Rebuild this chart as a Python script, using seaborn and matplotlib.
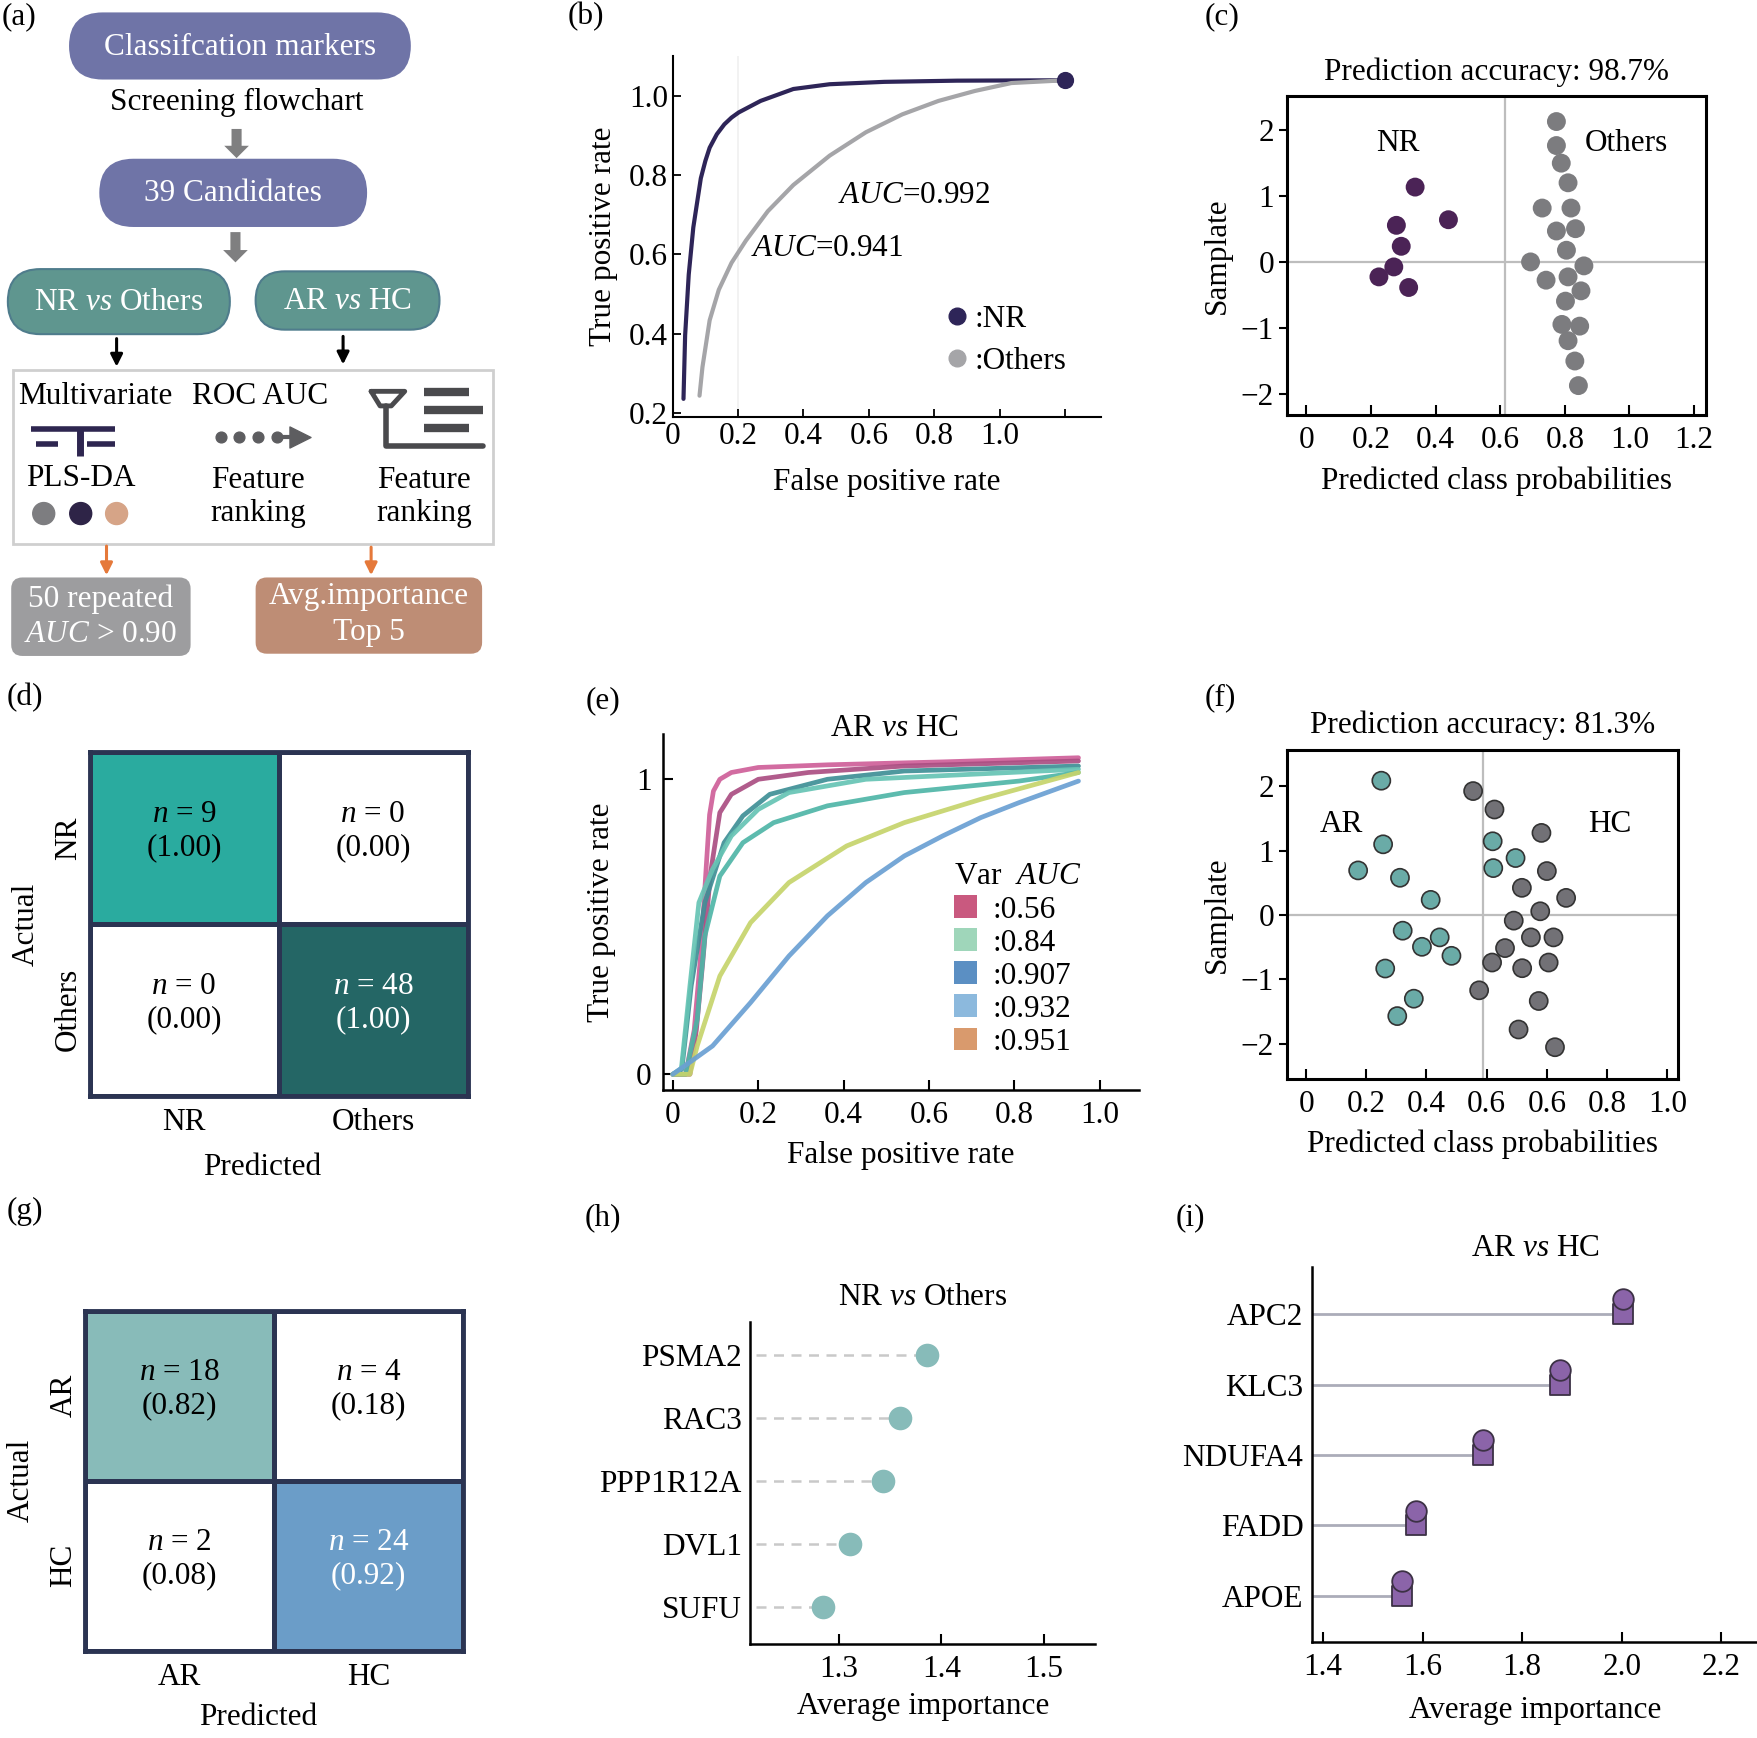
import numpy as np
import pandas as pd
import matplotlib
matplotlib.use("Agg")
import matplotlib.pyplot as plt
import seaborn as sns
from matplotlib.patches import FancyBboxPatch, Rectangle, Patch, FancyArrow
from matplotlib.lines import Line2D
from matplotlib.colors import LinearSegmentedColormap

# ---------------- data ----------------
# (b) ROC NR vs Others
nr_fpr = [0.033, 0.038, 0.049, 0.063, 0.086, 0.1, 0.113, 0.135, 0.158, 0.18, 0.202, 0.269, 0.369, 0.48, 0.647, 0.869, 1.2]
nr_tpr = [0.236, 0.396, 0.549, 0.668, 0.792, 0.836, 0.869, 0.903, 0.928, 0.945, 0.958, 0.987, 1.017, 1.029, 1.035, 1.038, 1.039]
oth_fpr = [0.082, 0.091, 0.113, 0.141, 0.18, 0.224, 0.291, 0.369, 0.48, 0.591, 0.702, 0.813, 0.924, 1.036, 1.2]
oth_tpr = [0.244, 0.316, 0.434, 0.511, 0.579, 0.635, 0.709, 0.775, 0.849, 0.908, 0.953, 0.987, 1.012, 1.032, 1.039]
auc_b = ["0.992", "0.941"]

# (c) predicted probabilities NR vs Others
c_nr_prob = [0.337, 0.44, 0.279, 0.294, 0.271, 0.225, 0.317]
c_nr_samp = [1.135, 0.64, 0.555, 0.237, -0.076, -0.227, -0.388]
c_oth_prob = [0.774, 0.774, 0.789, 0.81, 0.73, 0.819, 0.774, 0.833, 0.805, 0.694,
              0.859, 0.742, 0.81, 0.85, 0.802, 0.791, 0.846, 0.81, 0.831, 0.842]
c_oth_samp = [2.129, 1.765, 1.498, 1.2, 0.817, 0.817, 0.469, 0.504, 0.177, 0.0,
              -0.06, -0.277, -0.227, -0.439, -0.595, -0.948, -0.974, -1.195, -1.503, -1.876]
c_threshold = 0.614
c_accuracy = "98.7%"

# (d) confusion matrix NR vs Others
cm_d_labels = ["NR", "Others"]
cm_d_counts = [[9, 0], [0, 48]]
cm_d_props = [[1.00, 0.00], [0.00, 1.00]]

# (e) ROC curves AR vs HC
e_curves = {
    "c1": ([0.0, 0.03, 0.05, 0.065, 0.078, 0.086, 0.095, 0.11, 0.137, 0.2, 0.362, 0.632, 0.95],
           [0.0, 0.0, 0.15, 0.4, 0.7, 0.88, 0.96, 1.0, 1.023, 1.04, 1.049, 1.059, 1.073]),
    "c2": ([0.0, 0.04, 0.055, 0.07, 0.088, 0.11, 0.137, 0.2, 0.317, 0.542, 0.95],
           [0.0, 0.0, 0.15, 0.38, 0.68, 0.887, 0.949, 1.0, 1.023, 1.045, 1.062]),
    "c3": ([0.0, 0.021, 0.043, 0.075, 0.12, 0.164, 0.227, 0.362, 0.542, 0.95],
           [0.0, 0.017, 0.3, 0.582, 0.785, 0.876, 0.949, 1.0, 1.028, 1.045]),
    "c4": ([0.0, 0.02, 0.04, 0.061, 0.093, 0.137, 0.2, 0.272, 0.452, 0.95],
           [0.0, 0.02, 0.3, 0.582, 0.695, 0.808, 0.898, 0.955, 1.0, 1.034]),
    "c5": ([0.0, 0.03, 0.057, 0.075, 0.11, 0.164, 0.236, 0.362, 0.542, 0.811, 0.95],
           [0.0, 0.0, 0.186, 0.469, 0.672, 0.785, 0.853, 0.91, 0.955, 0.994, 1.023]),
    "c6": ([0.0, 0.04, 0.057, 0.11, 0.182, 0.272, 0.407, 0.542, 0.721, 0.95],
           [0.0, 0.0, 0.096, 0.333, 0.514, 0.65, 0.774, 0.853, 0.932, 1.023]),
    "c7": ([0.0, 0.039, 0.093, 0.182, 0.272, 0.362, 0.452, 0.542, 0.632, 0.721, 0.811, 0.95],
           [0.0, 0.04, 0.096, 0.243, 0.401, 0.537, 0.65, 0.74, 0.808, 0.87, 0.921, 0.994]),
}
e_curve_colors = ["#cf5f99", "#ab4e82", "#3f8f96", "#66c4b4", "#4fb5a7", "#c6d46b", "#6aa0d3"]
e_legend_auc = [":0.56", ":0.84", ":0.907", ":0.932", ":0.951"]
e_legend_colors = ["#c9597f", "#9fd6ba", "#5b8fc3", "#8cb9dd", "#d99a6d"]

# (f) predicted probabilities AR vs HC
f_ar_prob = [0.25, 0.256, 0.173, 0.312, 0.414, 0.321, 0.444, 0.385, 0.483, 0.263, 0.358, 0.303, 0.62, 0.696, 0.622]
f_ar_samp = [2.083, 1.096, 0.691, 0.577, 0.234, -0.244, -0.348, -0.494, -0.634, -0.831, -1.299, -1.569, 1.143, 0.883, 0.727]
f_hc_prob = [0.555, 0.626, 0.782, 0.8, 0.717, 0.864, 0.778, 0.69, 0.747, 0.822, 0.661, 0.618, 0.718, 0.806, 0.575, 0.773, 0.706, 0.827]
f_hc_samp = [1.922, 1.636, 1.273, 0.681, 0.421, 0.265, 0.057, -0.088, -0.348, -0.348, -0.514, -0.738, -0.826, -0.738, -1.169, -1.335, -1.777, -2.052]
f_threshold = 0.587
f_accuracy = "81.3%"
f_tick_labels = ["0", "0.2", "0.4", "0.6", "0.6", "0.8", "1.0"]

# (g) confusion matrix AR vs HC
cm_g_labels = ["AR", "HC"]
cm_g_counts = [[18, 4], [2, 24]]
cm_g_props = [[0.82, 0.18], [0.08, 0.92]]

# (h) importance NR vs Others
h_genes = ["PSMA2", "RAC3", "PPP1R12A", "DVL1", "SUFU"]
h_importance = [1.386, 1.360, 1.343, 1.311, 1.285]

# (i) importance AR vs HC
i_genes = ["APC2", "KLC3", "NDUFA4", "FADD", "APOE"]
i_importance = [2.002, 1.875, 1.722, 1.586, 1.559]

# ---------------- style ----------------
FS = 22.5
sns.set_theme(style="ticks")
plt.rcParams["font.family"] = ["Liberation Serif", "DejaVu Serif"]
plt.rcParams.update({
    "mathtext.fontset": "custom",
    "mathtext.rm": "Liberation Serif",
    "mathtext.it": "Liberation Serif:italic",
    "font.size": FS,
    "xtick.labelsize": FS, "ytick.labelsize": FS,
    "axes.labelsize": FS, "axes.titlesize": FS,
    "text.color": "black", "axes.labelcolor": "black",
    "xtick.color": "black", "ytick.color": "black",
    "axes.edgecolor": "black",
})

W, H = 1568.0, 1550.0


def rect(l, t, r, b):
    return [l / W, 1 - b / H, (r - l) / W, (b - t) / H]


fig = plt.figure(figsize=(17.58, 17.38), dpi=100)
fig.patch.set_facecolor("white")

for lab, (px, py) in {"(a)": (17, 15), "(b)": (523, 15), "(c)": (1090, 15), "(d)": (22, 622),
                      "(e)": (538, 625), "(f)": (1088, 622), "(g)": (22, 1080), "(h)": (538, 1086),
                      "(i)": (1062, 1086)}.items():
    fig.text(px / W, 1 - py / H, lab, ha="center", va="center", fontsize=FS)

# ---------------- (a) flowchart ----------------
axa = fig.add_axes(rect(0, 0, 445, 600))
axa.set_xlim(0, 445)
axa.set_ylim(600, 0)
axa.axis("off")


def pill(cx, cy, w, h, fc, ec, text):
    axa.add_patch(FancyBboxPatch((cx - w / 2, cy - h / 2), w, h,
                                 boxstyle=f"round,pad=0,rounding_size={h / 2}",
                                 fc=fc, ec=ec, lw=1.5))
    axa.text(cx, cy + 1, text, color="white", ha="center", va="center", fontsize=FS)


pill(214, 41, 303, 58, "#6f74a7", "#6f74a7", "Classifcation markers")
axa.text(211, 91, "Screening flowchart", ha="center", va="center", fontsize=FS)
pill(208, 172, 237, 59, "#6f74a7", "#6f74a7", "39 Candidates")
pill(106, 269, 198, 58, "#5f968f", "#4f7c8c", "NR $vs$ Others")
pill(310, 268, 164, 52, "#5f968f", "#4f7c8c", "AR $vs$ HC")
for (x, y0, y1) in [(211, 115, 141), (210, 207, 234)]:
    axa.add_patch(FancyArrow(x, y0, 0, y1 - y0, width=9, head_width=22, head_length=11,
                             length_includes_head=True, color="#7f7f80", lw=0))
for (x, y0, y1, c) in [(104, 302, 327, "black"), (306, 300, 325, "black"),
                       (95, 487, 513, "#e5793a"), (331, 488, 513, "#e5793a")]:
    axa.annotate("", xy=(x, y1), xytext=(x, y0),
                 arrowprops=dict(arrowstyle="-|>", color=c, lw=2.2, mutation_scale=18,
                                 shrinkA=0, shrinkB=0))
axa.add_patch(Rectangle((12, 330), 428, 155, fill=False, ec="#cfcfcf", lw=2))
axa.text(85, 354, "Multivariate", ha="center", va="center", fontsize=FS)
axa.text(232, 354, "ROC AUC", ha="center", va="center", fontsize=FS)
axa.text(72, 427, "PLS-DA", ha="center", va="center", fontsize=FS)
axa.text(230, 443, "Feature\nranking", ha="center", va="center", fontsize=FS, linespacing=1.2)
axa.text(378, 443, "Feature\nranking", ha="center", va="center", fontsize=FS, linespacing=1.2)
navy = "#2e2650"
axa.plot([28, 103], [383, 383], color=navy, lw=4, solid_capstyle="butt")
axa.plot([32, 52], [396, 396], color=navy, lw=4, solid_capstyle="butt")
axa.plot([78, 103], [396, 396], color=navy, lw=4, solid_capstyle="butt")
axa.plot([71, 71], [383, 407], color=navy, lw=5, solid_capstyle="butt")
axa.scatter([197, 213, 230, 247], [390] * 4, s=60, color="#5d5d60", zorder=3)
axa.scatter([268], [390], marker=">", s=230, color="#5d5d60", zorder=3)
axa.plot([252, 265], [390, 390], color="#5d5d60", lw=3)
gk = "#4a4a4d"
axa.plot([331, 361, 349, 349, 339, 339, 331], [349, 349, 362, 362, 362, 362, 349], color=gk, lw=3.5)
axa.plot([344, 344, 431], [362, 398, 398], color=gk, lw=4, solid_joinstyle="round")
axa.plot([378, 418], [350, 350], color=gk, lw=6, solid_capstyle="butt")
axa.plot([378, 431], [366, 366], color=gk, lw=6, solid_capstyle="butt")
axa.plot([378, 418], [382, 382], color=gk, lw=6, solid_capstyle="butt")
axa.scatter([39, 72, 104], [458, 458, 458], s=250, color=["#7d7d80", "#2e2447", "#d6a487"], zorder=3)
axa.add_patch(FancyBboxPatch((10, 515), 160, 70, boxstyle="round,pad=0,rounding_size=10",
                             fc="#9d9d9f", ec="none"))
axa.text(90, 534, "50 repeated", ha="center", va="center", color="white", fontsize=FS)
axa.text(90, 566, "$AUC$ > 0.90", ha="center", va="center", color="white", fontsize=FS)
axa.add_patch(FancyBboxPatch((228, 515), 202, 68, boxstyle="round,pad=0,rounding_size=10",
                             fc="#be8d75", ec="none"))
axa.text(329, 532, "Avg.importance", ha="center", va="center", color="white", fontsize=FS)
axa.text(329, 564, "Top 5", ha="center", va="center", color="white", fontsize=FS)

# ---------------- (b) ROC ----------------
axb = fig.add_axes(rect(600, 50, 982, 372))
df_b = pd.DataFrame({"fpr": nr_fpr + oth_fpr, "tpr": nr_tpr + oth_tpr,
                     "cls": ["NR"] * len(nr_fpr) + ["Others"] * len(oth_fpr)})
pal_b = {"NR": "#2e2558", "Others": "#a5a5a8"}
axb.axvline(0.2, color="#f0f0f0", lw=1.2, zorder=0)
sns.lineplot(data=df_b, x="fpr", y="tpr", hue="cls", palette=pal_b, lw=3, sort=False,
             estimator=None, legend=False, ax=axb)
axb.scatter([nr_fpr[-1]], [nr_tpr[-1]], s=130, color=pal_b["NR"], zorder=5)
axb.set_xlim(0, 1.31)
axb.set_ylim(0.19, 1.1)
axb.set_xticks([0, 0.2, 0.4, 0.6, 0.8, 1.0, 1.2])
axb.set_xticklabels(["0", "0.2", "0.4", "0.6", "0.8", "1.0", ""])
axb.set_yticks([0.2, 0.4, 0.6, 0.8, 1.0])
axb.set_yticklabels(["0.2", "0.4", "0.6", "0.8", "1.0"])
axb.tick_params(direction="in", length=6, width=1.3)
axb.set_xlabel("False positive rate", labelpad=12)
axb.set_ylabel("True positive rate", labelpad=8)
sns.despine(ax=axb)
for s in ["left", "bottom"]:
    axb.spines[s].set_linewidth(1.5)
axb.text(0.563, 0.615, f"$AUC$={auc_b[0]}", transform=axb.transAxes, ha="center", va="center", fontsize=FS)
axb.text(0.361, 0.466, f"$AUC$={auc_b[1]}", transform=axb.transAxes, ha="center", va="center", fontsize=FS)
hb = [Line2D([], [], marker="o", ls="", color=pal_b[k], markersize=12) for k in ["NR", "Others"]]
axb.legend(hb, [":NR", ":Others"], frameon=False, loc="upper left", bbox_to_anchor=(0.605, 0.345),
           handlelength=0.8, handletextpad=0.15, labelspacing=0.42, fontsize=FS, borderaxespad=0)


# ---------------- (c) and (f) scatter ----------------
def prob_panel(box, probs_a, samps_a, probs_b, samps_b, names, cols, edge, thr, acc, xlim, ylim,
               xticklabels, txt_pos):
    ax = fig.add_axes(rect(*box))
    df = pd.DataFrame({"prob": probs_a + probs_b, "sample": samps_a + samps_b,
                       "grp": [names[0]] * len(probs_a) + [names[1]] * len(probs_b)})
    ax.axhline(0, color="#bdbdbd", lw=1.6, zorder=0)
    ax.axvline(thr, color="#bdbdbd", lw=1.6, zorder=0)
    kw = dict(edgecolor="none") if edge is None else dict(edgecolor=edge, linewidth=1.2)
    sns.scatterplot(data=df, x="prob", y="sample", hue="grp", palette=dict(zip(names, cols)),
                    s=185 if edge is None else 170, legend=False, ax=ax, zorder=3, **kw)
    ax.set_xlim(*xlim)
    ax.set_ylim(*ylim)
    ax.set_xticks([0, 0.2, 0.4, 0.6, 0.8, 1.0, 1.2])
    ax.set_xticklabels(xticklabels)
    ax.set_yticks([-2, -1, 0, 1, 2])
    ax.tick_params(axis="x", direction="in", length=7, width=1.5, pad=8)
    ax.tick_params(axis="y", direction="out", length=6, width=1.5)
    for s in ax.spines.values():
        s.set_linewidth(2.2)
        s.set_visible(True)
    ax.set_xlabel("Predicted class probabilities", labelpad=8)
    ax.set_ylabel("Samplate", labelpad=6)
    ax.set_title(f"Prediction accuracy: {acc}", pad=12, fontsize=FS)
    for (tx, ty), nm in zip(txt_pos, names):
        ax.text(tx, ty, nm, ha="center", va="center", fontsize=FS)
    return ax


prob_panel((1148, 86, 1522, 370), c_nr_prob, c_nr_samp, c_oth_prob, c_oth_samp,
           ["NR", "Others"], ["#4b2356", "#7c7c7f"], None, c_threshold, c_accuracy,
           (-0.059, 1.238), (-2.32, 2.51), ["0", "0.2", "0.4", "0.6", "0.8", "1.0", "1.2"],
           [(0.284, 1.79), (0.989, 1.79)])
prob_panel((1148, 669, 1497, 962), f_ar_prob, f_ar_samp, f_hc_prob, f_hc_samp,
           ["AR", "HC"], ["#6aaba7", "#727176"], "#333333", f_threshold, f_accuracy,
           (-0.063, 1.237), (-2.54, 2.557), f_tick_labels,
           [(0.119, 1.40), (1.009, 1.40)])


# ---------------- (d) and (g) confusion matrices ----------------
def cm_panel(box, counts, props, labels, cmap, xlab_y):
    ax = fig.add_axes(rect(*box))
    arr = np.array(counts)
    sns.heatmap(arr, cmap=cmap, vmin=0, vmax=arr.max(), cbar=False, linewidths=3.5,
                linecolor="#2b3452", xticklabels=labels, yticklabels=labels, ax=ax)
    for s in ax.spines.values():
        s.set_visible(True)
        s.set_color("#2b3452")
        s.set_linewidth(3.5)
    for i in range(arr.shape[0]):
        for j in range(arr.shape[1]):
            col = "white" if arr[i, j] == arr.max() else "black"
            ax.text(j + 0.5, i + 0.46, f"$n$ = {arr[i, j]}\n({props[i][j]:.2f})", ha="center",
                    va="center", color=col, fontsize=FS, linespacing=1.2)
    ax.tick_params(length=0, labelsize=FS)
    ax.tick_params(axis="x", pad=9)
    ax.tick_params(axis="y", pad=5)
    ax.set_yticklabels(labels, rotation=90, va="center")
    ax.set_xlabel("Predicted", fontsize=FS)
    ax.set_ylabel("Actual", fontsize=FS)
    ax.xaxis.set_label_coords(0.457, xlab_y)
    ax.yaxis.set_label_coords(-0.13, 0.5)
    return ax


cmap_d = LinearSegmentedColormap.from_list("d", [(0, "white"), (9 / 48, "#2aab9f"), (1, "#246665")])
cm_panel((80, 671, 417, 977), cm_d_counts, cm_d_props, cm_d_labels, cmap_d, -0.168)
cmap_g = LinearSegmentedColormap.from_list("g", [(0, "white"), (4 / 24, "white"), (18 / 24, "#88bbb9"),
                                                 (1, "#6b9dc8")])
cm_panel((76, 1169, 413, 1472), cm_g_counts, cm_g_props, cm_g_labels, cmap_g, -0.155)

# ---------------- (e) ROC AR vs HC ----------------
axe = fig.add_axes(rect(591, 655, 1016, 972))
rows = []
for k, (xs, ys) in e_curves.items():
    for x, y in zip(xs, ys):
        rows.append((k, x, y))
df_e = pd.DataFrame(rows, columns=["curve", "fpr", "tpr"])
sns.lineplot(data=df_e, x="fpr", y="tpr", hue="curve", palette=dict(zip(e_curves.keys(), e_curve_colors)),
             lw=3.4, alpha=0.92, sort=False, estimator=None, legend=False, ax=axe)
axe.set_xlim(-0.024, 1.092)
axe.set_ylim(-0.053, 1.152)
axe.set_xticks([0, 0.2, 0.4, 0.6, 0.8, 1.0])
axe.set_xticklabels(["0", "0.2", "0.4", "0.6", "0.8", "1.0"])
axe.set_yticks([0, 1])
axe.set_yticklabels(["0", "1"])
axe.tick_params(direction="in", length=7, width=1.5, pad=8)
sns.despine(ax=axe)
for s in ["left", "bottom"]:
    axe.spines[s].set_linewidth(1.8)
axe.set_xlabel("False positive rate", labelpad=8)
axe.set_ylabel("True positive rate", labelpad=14)
axe.text(0.487, 1.016, "AR $vs$ HC", transform=axe.transAxes, ha="center", va="center", fontsize=FS)
he = [Patch(facecolor=c, edgecolor="none") for c in e_legend_colors]
leg = axe.legend(he, e_legend_auc, title="Var  $AUC$", frameon=False, loc="upper left",
                 bbox_to_anchor=(0.585, 0.675), handlelength=0.75, handleheight=0.75, handletextpad=0.5,
                 labelspacing=0.12, fontsize=FS, title_fontsize=FS, borderaxespad=0)
leg._legend_box.align = "left"

# ---------------- (h) lollipop ----------------
axh = fig.add_axes(rect(669, 1179, 977, 1466))
df_h = pd.DataFrame({"gene": h_genes, "imp": h_importance})
h_xmin = 1.2137
axh.hlines(y=np.arange(len(h_genes)), xmin=h_xmin + 0.006, xmax=df_h["imp"], colors="#c9c9c9",
           linestyles=(0, (4, 3)), lw=1.8, zorder=1)
sns.stripplot(data=df_h, x="imp", y="gene", jitter=False, size=17, color="#87bbb9",
              linewidth=0, ax=axh, zorder=3)
axh.set_xlim(h_xmin, 1.55)
axh.set_ylim(len(h_genes) - 1 + 0.59, -0.52)
axh.set_xticks([1.3, 1.4, 1.5])
axh.set_xticklabels(["1.3", "1.4", "1.5"])
axh.tick_params(axis="x", direction="in", length=7, width=1.5, pad=8)
axh.tick_params(axis="y", length=0, pad=6, labelsize=FS)
sns.despine(ax=axh)
for s in ["left", "bottom"]:
    axh.spines[s].set_linewidth(1.8)
axh.set_xlabel("Average importance", labelpad=6)
axh.set_ylabel("")
axh.set_title("NR $vs$ Others", pad=12, fontsize=FS)

# ---------------- (i) lollipop ----------------
axi = fig.add_axes(rect(1170, 1130, 1568, 1464))
df_i = pd.DataFrame({"gene": i_genes, "imp": i_importance})
i_xmin = 1.377
axi.hlines(y=np.arange(len(i_genes)), xmin=i_xmin, xmax=df_i["imp"], colors="#abacb9", lw=2, zorder=1)
sns.stripplot(data=df_i, x="imp", y="gene", jitter=False, size=14, marker="s", color="#8b64a9",
              edgecolor="#3c3145", linewidth=1.3, ax=axi, zorder=3)
axi.scatter(df_i["imp"], np.arange(len(i_genes)) - 0.21, s=220, color="#8b64a9",
            edgecolor="#3c3145", linewidth=1.3, zorder=4)
axi.set_xlim(i_xmin, 2.274)
axi.set_ylim(len(i_genes) - 1 + 0.65, -0.67)
axi.set_xticks([1.4, 1.6, 1.8, 2.0, 2.2])
axi.set_xticklabels(["1.4", "1.6", "1.8", "2.0", "2.2"])
axi.tick_params(axis="x", direction="in", length=7, width=1.5, pad=8)
axi.tick_params(axis="y", length=0, pad=6, labelsize=FS)
sns.despine(ax=axi)
for s in ["left", "bottom"]:
    axi.spines[s].set_linewidth(1.8)
axi.set_xlabel("Average importance", labelpad=10)
axi.set_ylabel("")
axi.set_title("AR $vs$ HC", pad=8, fontsize=FS)

fig.savefig("out.png", dpi=100, facecolor="white")
